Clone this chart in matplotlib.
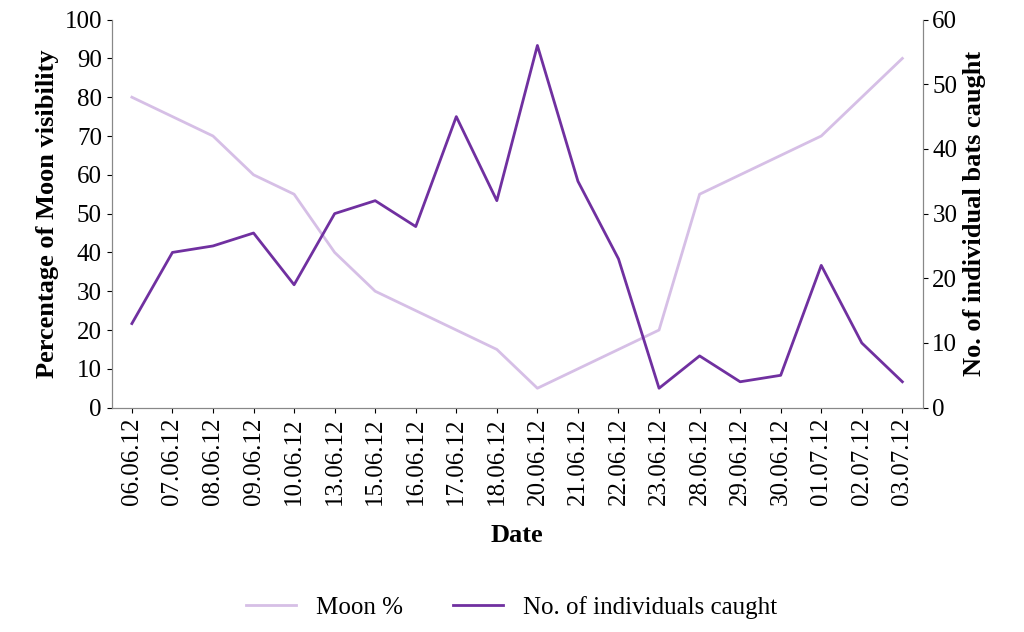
import matplotlib.pyplot as plt

dates = ['06.06.12', '07.06.12', '08.06.12', '09.06.12', '10.06.12', '13.06.12', '15.06.12',
         '16.06.12', '17.06.12', '18.06.12', '20.06.12', '21.06.12', '22.06.12', '23.06.12',
         '28.06.12', '29.06.12', '30.06.12', '01.07.12', '02.07.12', '03.07.12']
moon = [80, 75, 70, 60, 55, 40, 30, 25, 20, 15, 5, 10, 15, 20, 55, 60, 65, 70, 80, 90]
bats = [13, 24, 25, 27, 19, 30, 32, 28, 45, 32, 56, 35, 23, 3, 8, 4, 5, 22, 10, 4]

plt.rcParams['font.family'] = 'Liberation Serif'
fig = plt.figure(figsize=(10.24, 6.32), dpi=100)
ax = fig.add_axes([0.109, 0.355, 0.792, 0.614])
ax2 = ax.twinx()
x = range(len(dates))
l1, = ax.plot(x, moon, color='#d6bfe6', lw=2, label='Moon %')
l2, = ax2.plot(x, bats, color='#7030a0', lw=2, label='No. of individuals caught')

ax.set_xlim(-0.5, len(dates) - 0.5)
ax.set_ylim(0, 100)
ax.set_yticks(range(0, 101, 10))
ax2.set_ylim(0, 60)
ax2.set_yticks(range(0, 61, 10))
ax.set_xticks(list(x))
ax.set_xticklabels(dates, rotation=90, fontsize=18)
ax.tick_params(axis='y', labelsize=18)
ax2.tick_params(axis='y', labelsize=18)
ax.set_ylabel('Percentage of Moon visibility', fontsize=19, fontweight='bold')
ax2.set_ylabel('No. of individual bats caught', fontsize=19, fontweight='bold')
ax.set_xlabel('Date', fontsize=19, fontweight='bold', labelpad=14)
for a in (ax, ax2):
    a.spines['top'].set_visible(False)
    for s in ('left', 'right', 'bottom'):
        a.spines[s].set_color('#888888')
fig.legend(handles=[l1, l2], loc='lower center', bbox_to_anchor=(0.5, -0.015), ncol=2,
           frameon=False, fontsize=18)
fig.savefig('out.png')
